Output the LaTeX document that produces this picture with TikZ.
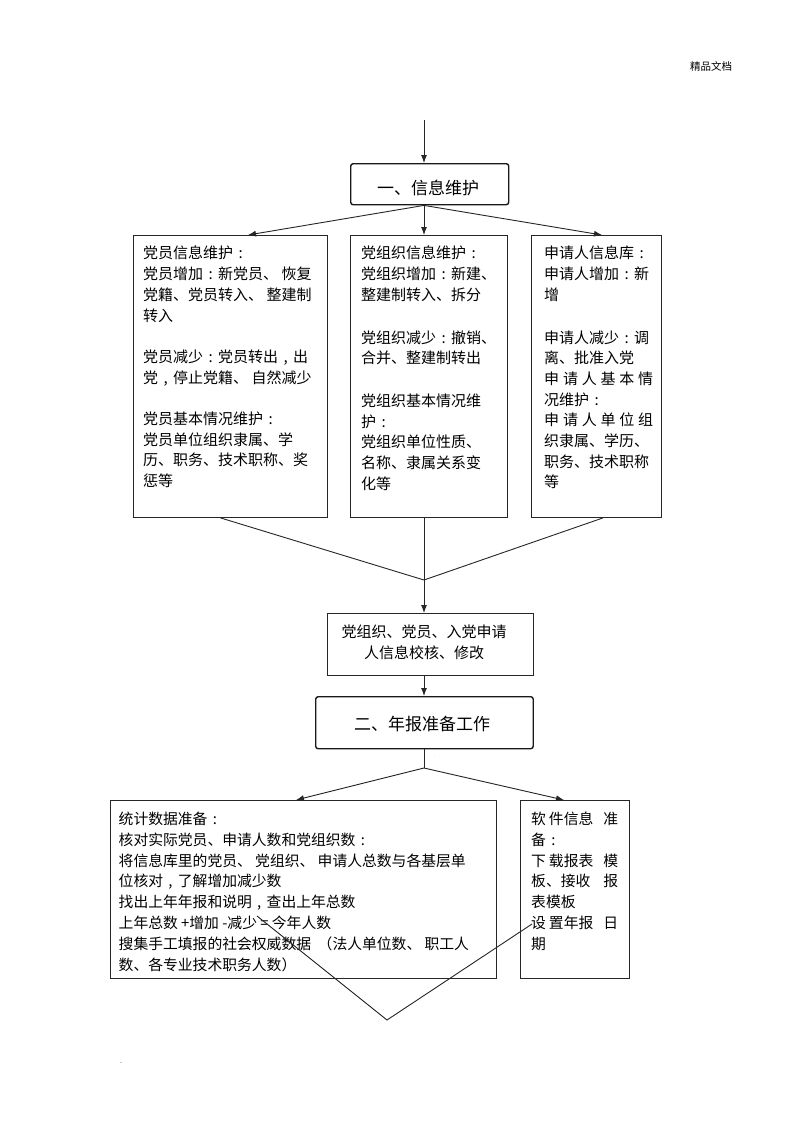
\documentclass[tikz,border=0pt]{standalone}
\usepackage{fontspec}
\setmainfont{Noto Sans CJK SC}
\usetikzlibrary{arrows.meta}
\newcommand\cc{\makebox[1em][c]{:}}
\newcommand\cm{\makebox[1em][c]{,}}
\tikzset{
  conn/.style={draw=black!85, line width=0.9pt},
  arr/.style={conn, -{Latex[length=8pt,width=6pt]}},
  box/.style={draw=black!85, line width=0.9pt, inner sep=0pt, anchor=north west},
  headbox/.style={draw=black!90, line width=1.4pt, rounded corners=2.5pt, inner sep=0pt, anchor=north west},
  body/.style={inner sep=0pt, anchor=north west, align=left, font=\fontsize{15pt}{20.7pt}\selectfont},
  bodys/.style={inner sep=0pt, anchor=north west, align=left, font=\fontsize{14.8pt}{20.9pt}\selectfont},
  headtxt/.style={font=\fontsize{17pt}{20pt}\selectfont}
}
\begin{document}
\begin{tikzpicture}[x=1pt,y=-1pt]
\useasboundingbox (0,0) rectangle (800,1133);
\fill[white] (0,0) rectangle (800,1133);

\node[font=\fontsize{10.5pt}{12pt}\selectfont] (hdr) at (711,66) {精品文档};

\coordinate (start) at (424,120);

% box 1
\node[headbox, minimum width=158pt, minimum height=41pt] (b1) at (350,163) {};
\node[headtxt] (b1t) at (428,188) {一、信息维护};

% three boxes
\node[box, minimum width=194pt, minimum height=282pt] (pm) at (133,235) {};
\node[box, minimum width=157pt, minimum height=282pt] (po) at (350,235) {};
\node[box, minimum width=130pt, minimum height=282pt] (ap) at (531,235) {};

\node[body] (pmt) at (143,246) {党员信息维护\cc\\
党员增加\cc 新党员、 恢复\\
党籍、党员转入、 整建制\\
转入\\[20.7pt]
党员减少\cc 党员转出\cm 出\\
党\cm 停止党籍、 自然减少\\[20.7pt]
党员基本情况维护\cc\\
党员单位组织隶属、学\\
历、职务、技术职称、奖\\
惩等};

\node[body] (pot) at (361,246) {党组织信息维护\cc\\
党组织增加\cc 新建、\\
整建制转入、拆分\\[22pt]
党组织减少\cc 撤销、\\
合并、整建制转出\\[22pt]
党组织基本情况维\\
护\cc\\
党组织单位性质、\\
名称、隶属关系变\\
化等};

\node[body] (apt) at (544,246) {申请人信息库\cc\\
申请人增加\cc 新\\
增\\[22pt]
申请人减少\cc 调\\
离、批准入党\\
\makebox[109pt][l]{申\hfill 请\hfill 人\hfill 基\hfill 本\hfill 情}\\
况维护\cc\\
\makebox[109pt][l]{申\hfill 请\hfill 人\hfill 单\hfill 位\hfill 组}\\
织隶属、学历、\\
职务、技术职称\\
等};

% check box
\node[box, minimum width=205.5pt, minimum height=62pt] (chk) at (327,613) {};
\node[body, anchor=center, align=center] (chkt) at (424,642) {党组织、党员、入党申请\\人信息校核、修改};

% box 2
\node[headbox, minimum width=217.5pt, minimum height=52pt] (b2) at (315,696) {};
\node[headtxt] (b2t) at (422,724) {二、年报准备工作};

% bottom boxes
\node[box, minimum width=386.5pt, minimum height=178pt] (st) at (109.5,800) {};
\node[box, minimum width=109pt, minimum height=178pt] (sw) at (520,800) {};

\node[bodys] (stt) at (118.5,811.5) {统计数据准备\cc\\
核对实际党员、申请人数和党组织数\cc\\
将信息库里的党员、 党组织、 申请人总数与各基层单\\
位核对\cm 了解增加减少数\\
找出上年年报和说明\cm 查出上年总数\\
上年总数 +增加 -减少 = 今年人数\\
搜集手工填报的社会权威数据 \ （法人单位数、 职工人\\
数、各专业技术职务人数）};

\node[bodys] (swt) at (531,811.5) {\makebox[87pt][l]{软\hspace{3pt}件信息\hfill 准}\\
备\cc\\
\makebox[87pt][l]{下\hspace{3pt}载报表\hfill 模}\\
\makebox[87pt][l]{板、接收\hfill 报}\\
表模板\\
\makebox[87pt][l]{设\hspace{3pt}置年报\hfill 日}\\
期};

% connectors
\draw[arr] (start) -- (start |- b1.north);
\coordinate (b1s) at (start |- b1.south);
\draw[arr] (b1s) -- ([xshift=115pt]pm.north west);
\draw[arr] (b1s) -- (start |- po.north);
\draw[arr] (b1s) -- ([xshift=71pt]ap.north west);

\coordinate (m1) at (424,580);
\draw[conn] ([xshift=87.5pt]pm.south west) -- (m1);
\draw[conn] (m1 |- po.south) -- (m1);
\draw[conn] ([xshift=72pt]ap.south west) -- (m1);
\draw[arr] (m1) -- (m1 |- chk.north);
\draw[arr] (m1 |- chk.south) -- (m1 |- b2.north);

\coordinate (f) at (424,768);
\draw[conn] (f |- b2.south) -- (f);
\draw[arr] (f) -- ([xshift=186.5pt]st.north west);
\draw[arr] (f) -- ([xshift=44pt]sw.north west);

\coordinate (vl) at (257,916);
\coordinate (vr) at (532,924);
\coordinate (v) at (387,1020);
\draw[conn] (vl) -- (v) -- (vr);

\node[font=\fontsize{7pt}{8pt}\selectfont, inner sep=0pt] (dot1) at (121,1063) {.};
\node[font=\fontsize{4pt}{5pt}\selectfont, text=black!50, inner sep=0pt] (dot2) at (435,757) {.};
\end{tikzpicture}
\end{document}
